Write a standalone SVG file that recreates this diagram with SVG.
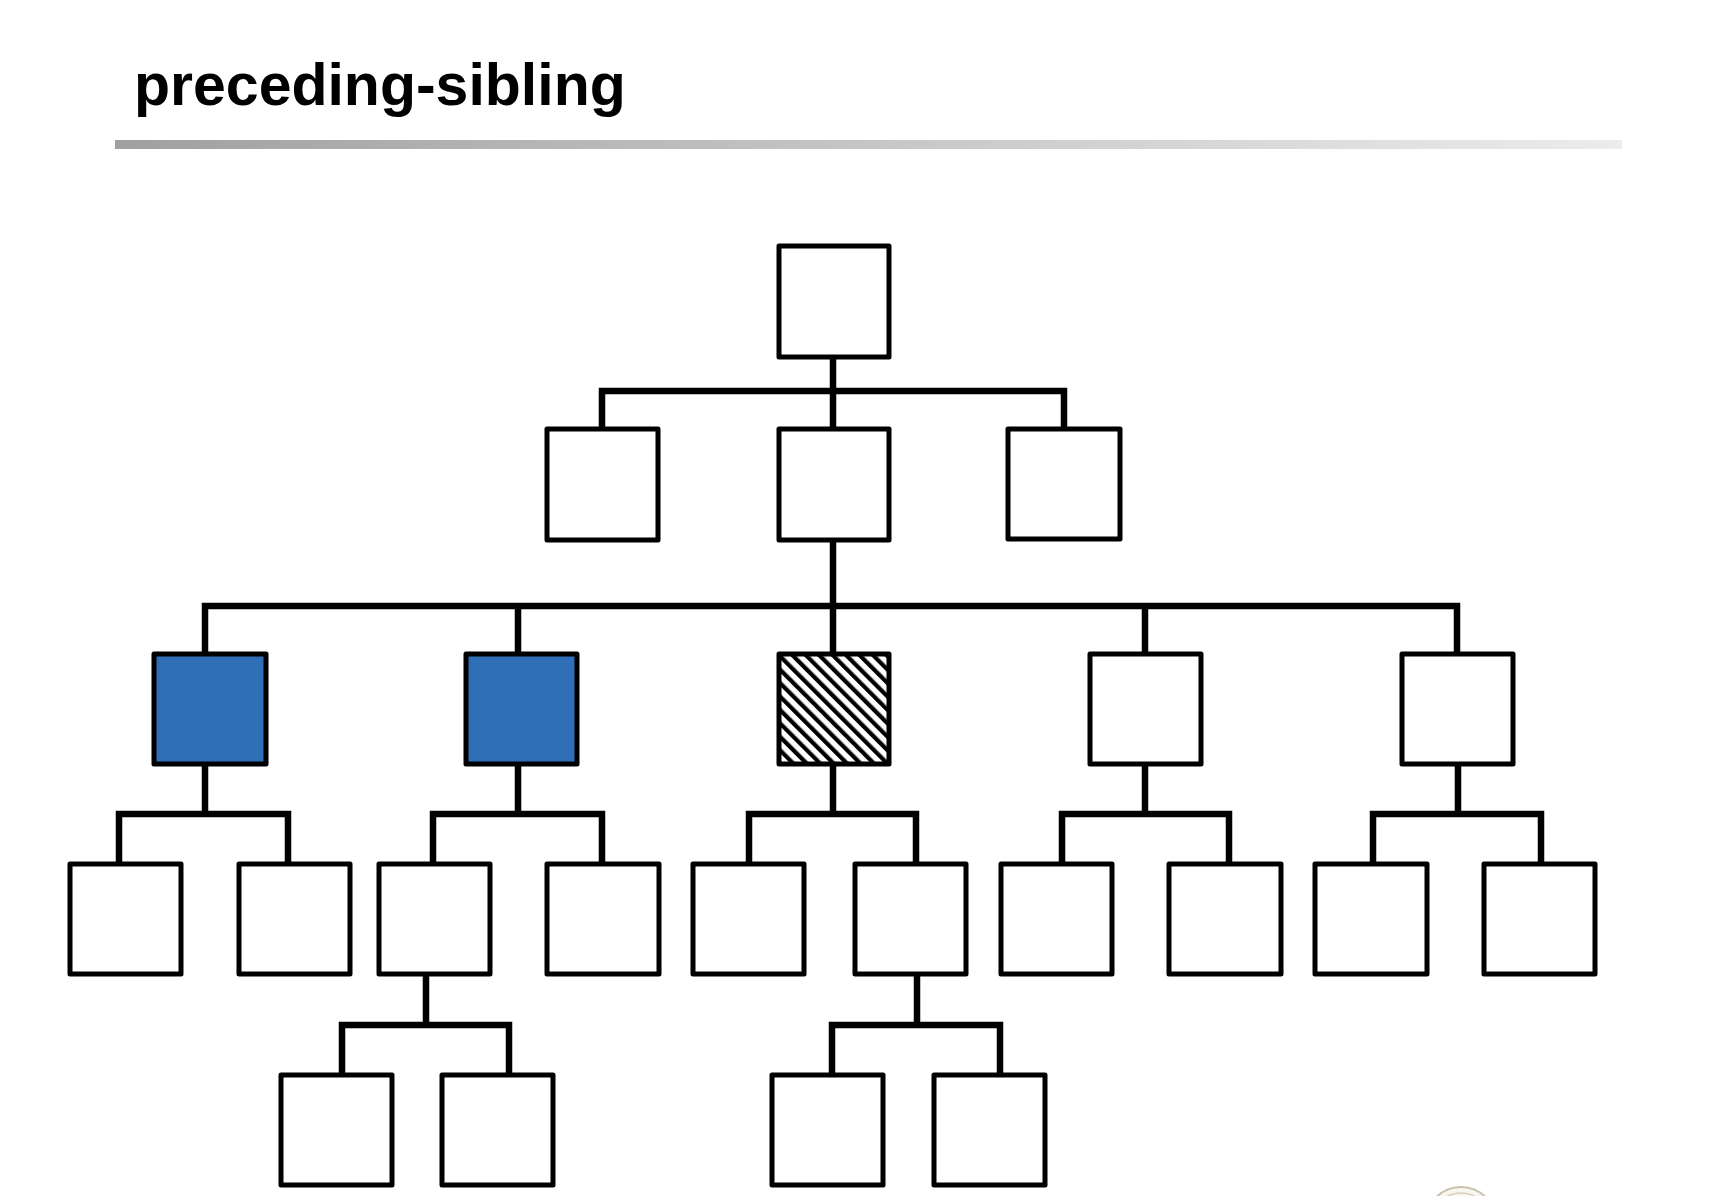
<svg xmlns="http://www.w3.org/2000/svg" width="1732" height="1196" viewBox="0 0 1732 1196">
  <defs>
    <linearGradient id="rule" x1="0" y1="0" x2="1" y2="0">
      <stop offset="0" stop-color="#a0a0a0"/>
      <stop offset="1" stop-color="#ececec"/>
    </linearGradient>
    <pattern id="hatch" patternUnits="userSpaceOnUse" width="9.5" height="9.5" patternTransform="rotate(-45)">
      <rect width="9.5" height="9.5" fill="#fff"/>
      <rect x="0" y="0" width="4.2" height="9.5" fill="#000"/>
    </pattern>
  </defs>
  <style>
    .box { fill: #fff; stroke: #000; stroke-width: 5; stroke-linejoin: round; }
    .sel { fill: #2f6fb7; }
    .ctx { fill: url(#hatch); }
    .conn { fill: none; stroke: #000; stroke-width: 6.5; stroke-linejoin: miter; stroke-linecap: butt; }
    .title { font-family: "Liberation Sans", Arial, sans-serif; font-weight: bold; font-size: 59px; fill: #000; }
  </style>
  <rect width="1732" height="1196" fill="#fff"/>
  <text class="title" x="134" y="105">preceding-sibling</text>
  <rect x="115" y="140" width="1507" height="9" fill="url(#rule)"/>

  <g id="connectors">
    <!-- root to level 2 -->
    <path class="conn" d="M833 358 V391 M602 430 V391 H1064 V430 M833 391 V430"/>
    <!-- level 2 middle to level 3 -->
    <path class="conn" d="M833 540 V606 M205 654 V606 H1457 V654 M518 606 V654 M833 606 V654 M1145 606 V654"/>
    <!-- level 3 to level 4 -->
    <path class="conn" d="M205 764 V814 M119 864 V814 H288 V864"/>
    <path class="conn" d="M518 764 V814 M433 864 V814 H602 V864"/>
    <path class="conn" d="M833 764 V814 M749 864 V814 H916 V864"/>
    <path class="conn" d="M1145 764 V814 M1062 864 V814 H1229 V864"/>
    <path class="conn" d="M1458 764 V814 M1373 864 V814 H1541 V864"/>
    <!-- level 4 to level 5 -->
    <path class="conn" d="M426 974 V1025 M342 1075 V1025 H509 V1075"/>
    <path class="conn" d="M917 974 V1025 M832 1075 V1025 H1000 V1075"/>
  </g>

  <g id="n-root"><rect class="box" x="779" y="246" width="110" height="111"/></g>

  <g id="n-l2a"><rect class="box" x="547" y="429" width="111" height="111"/></g>
  <g id="n-l2b"><rect class="box" x="779" y="429" width="110" height="111"/></g>
  <g id="n-l2c"><rect class="box" x="1008" y="429" width="112" height="110"/></g>

  <g id="n-l3a"><rect class="box sel" x="154" y="654" width="112" height="110"/></g>
  <g id="n-l3b"><rect class="box sel" x="466" y="654" width="111" height="110"/></g>
  <g id="n-l3c"><rect class="box ctx" x="779" y="654" width="110" height="110"/></g>
  <g id="n-l3d"><rect class="box" x="1090" y="654" width="111" height="110"/></g>
  <g id="n-l3e"><rect class="box" x="1402" y="654" width="111" height="110"/></g>

  <g id="n-l4a"><rect class="box" x="70" y="864" width="111" height="110"/></g>
  <g id="n-l4b"><rect class="box" x="239" y="864" width="111" height="110"/></g>
  <g id="n-l4c"><rect class="box" x="379" y="864" width="111" height="110"/></g>
  <g id="n-l4d"><rect class="box" x="547" y="864" width="112" height="110"/></g>
  <g id="n-l4e"><rect class="box" x="693" y="864" width="111" height="110"/></g>
  <g id="n-l4f"><rect class="box" x="855" y="864" width="111" height="110"/></g>
  <g id="n-l4g"><rect class="box" x="1001" y="864" width="111" height="110"/></g>
  <g id="n-l4h"><rect class="box" x="1169" y="864" width="112" height="110"/></g>
  <g id="n-l4i"><rect class="box" x="1315" y="864" width="112" height="110"/></g>
  <g id="n-l4j"><rect class="box" x="1484" y="864" width="111" height="110"/></g>

  <g id="n-l5a"><rect class="box" x="281" y="1075" width="111" height="110"/></g>
  <g id="n-l5b"><rect class="box" x="442" y="1075" width="111" height="110"/></g>
  <g id="n-l5c"><rect class="box" x="772" y="1075" width="111" height="110"/></g>
  <g id="n-l5d"><rect class="box" x="934" y="1075" width="111" height="110"/></g>

  <g id="seal">
    <circle cx="1461" cy="1222" r="35" fill="#f7f5ef" stroke="#c9c2aa" stroke-width="2"/>
    <circle cx="1461" cy="1222" r="29" fill="none" stroke="#d6d0bc" stroke-width="1.5"/>
  </g>
</svg>
